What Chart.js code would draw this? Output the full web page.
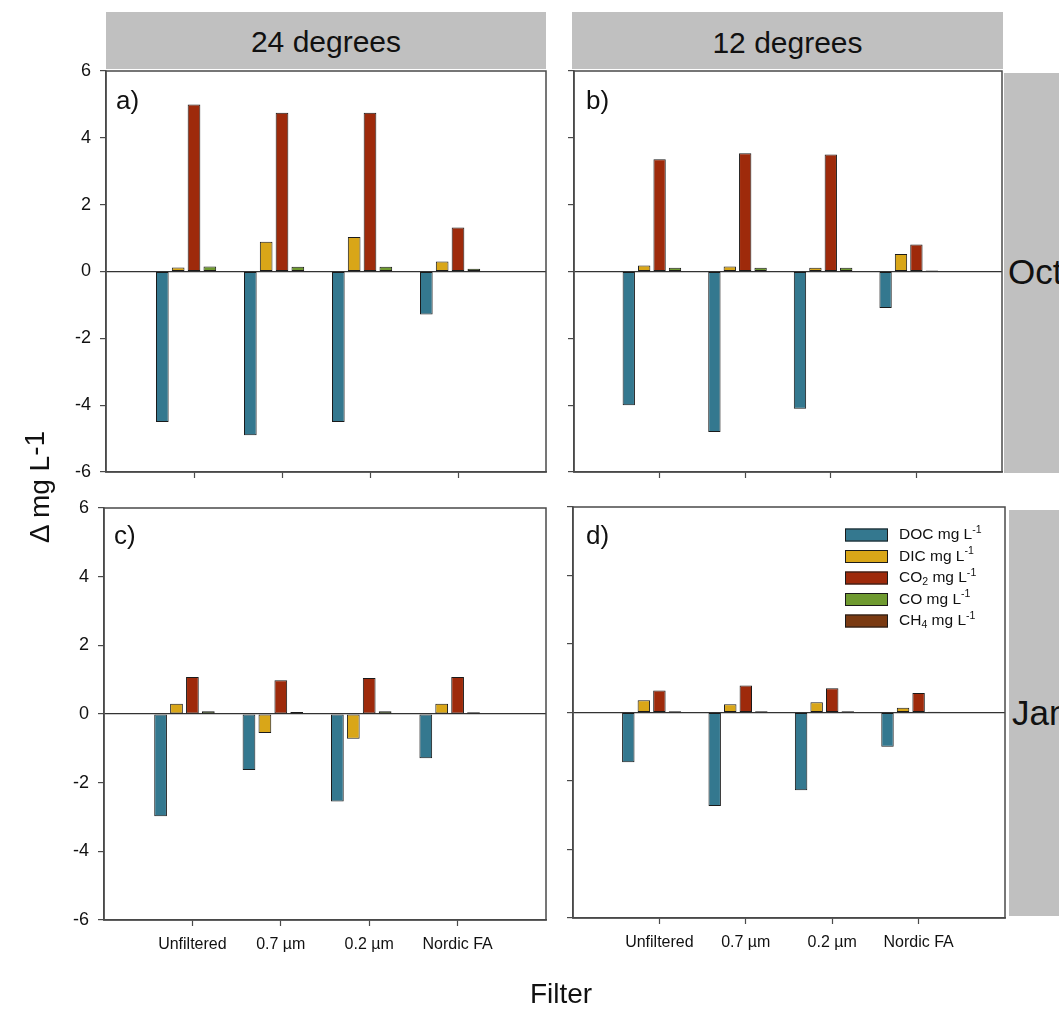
<!DOCTYPE html>
<html><head><meta charset="utf-8">
<script src="https://cdn.jsdelivr.net/npm/chart.js@4.4.1/dist/chart.umd.min.js"></script>
<style>
html,body{margin:0;padding:0;background:#fff;width:1059px;height:1009px;overflow:hidden;font-family:"Liberation Sans",Arial,sans-serif;}
.layer{position:absolute;left:0;top:0;}
.box{position:absolute;background:#c0c0c0;overflow:hidden;}
.txt{position:absolute;color:#111;white-space:nowrap;line-height:1;}
</style></head><body>
<div class="box" style="left:106px;top:12px;width:440px;height:57px;"></div>
<div class="box" style="left:572px;top:12px;width:431px;height:57px;"></div>
<div class="box" style="left:1004px;top:73px;width:60px;height:400px;"></div>
<div class="box" style="left:1009px;top:510px;width:55px;height:406px;"></div>
<div class="txt" style="left:106px;top:27px;width:440px;text-align:center;font-size:30px;">24 degrees</div>
<div class="txt" style="left:572px;top:28px;width:431px;text-align:center;font-size:30px;">12 degrees</div>
<div class="txt" style="left:1008px;top:254px;font-size:35px;">Oct</div>
<div class="txt" style="left:1012px;top:695px;font-size:35px;">Jan</div>
<canvas id="pa" class="layer" width="1059" height="1009"></canvas>
<canvas id="pb" class="layer" width="1059" height="1009"></canvas>
<canvas id="pc" class="layer" width="1059" height="1009"></canvas>
<canvas id="pd" class="layer" width="1059" height="1009"></canvas>
<div class="txt" style="left:116px;top:87px;font-size:26px;">a)</div>
<div class="txt" style="left:586px;top:87px;font-size:26px;">b)</div>
<div class="txt" style="left:114px;top:522px;font-size:26px;">c)</div>
<div class="txt" style="left:586px;top:522px;font-size:26px;">d)</div>
<div class="txt" style="left:40px;top:487px;font-size:28px;transform:translate(-50%,-50%) rotate(-90deg);">&Delta; mg L<span style="position:relative;top:-5px;">-1</span></div>
<div class="txt" style="left:561px;top:994px;font-size:28px;transform:translate(-50%,-50%);">Filter</div>
<script>
// ---- data ----
const filters = ['Unfiltered', '0.7 µm', '0.2 µm', 'Nordic FA'];
const seriesNames = ['DOC mg L⁻¹', 'DIC mg L⁻¹', 'CO₂ mg L⁻¹', 'CO mg L⁻¹', 'CH₄ mg L⁻¹'];
const seriesColors = ['#34788f', '#d9a618', '#9e2a0b', '#6f9a30', '#7a3a12'];
const yTicks = [-6, -4, -2, 0, 2, 4, 6];

// a) October, 24 degrees
const octWarmDOC = [-4.5, -4.9, -4.5, -1.29];
const octWarmDIC = [0.12, 0.89, 1.03, 0.30];
const octWarmCO2 = [5.0, 4.75, 4.75, 1.32];
const octWarmCO  = [0.15, 0.14, 0.14, 0.08];
const octWarmCH4 = [0, 0, 0, 0];
// b) October, 12 degrees
const octColdDOC = [-4.0, -4.8, -4.11, -1.09];
const octColdDIC = [0.18, 0.15, 0.11, 0.52];
const octColdCO2 = [3.36, 3.54, 3.5, 0.81];
const octColdCO  = [0.11, 0.11, 0.11, 0.03];
const octColdCH4 = [0, 0, 0, 0];
// c) January, 24 degrees
const janWarmDOC = [-2.98, -1.63, -2.55, -1.29];
const janWarmDIC = [0.30, -0.55, -0.72, 0.30];
const janWarmCO2 = [1.08, 0.98, 1.05, 1.08];
const janWarmCO  = [0.08, 0.06, 0.08, 0.05];
const janWarmCH4 = [0, 0, 0, 0];
// d) January, 12 degrees
const janColdDOC = [-1.45, -2.73, -2.27, -1.0];
const janColdDIC = [0.36, 0.24, 0.30, 0.14];
const janColdCO2 = [0.64, 0.79, 0.71, 0.57];
const janColdCO  = [0.04, 0.04, 0.04, 0.02];
const janColdCH4 = [0, 0, 0, 0];

const W = 1059, H = 1009;
const FONT = '"Liberation Sans", Arial, sans-serif';
Chart.defaults.font.family = FONT;

const framePlugin = {
  id: 'frame',
  afterDraw(chart) {
    const { ctx, chartArea: a } = chart;
    ctx.save();
    ctx.strokeStyle = '#4a4a4a';
    ctx.lineWidth = 1.5;
    ctx.strokeRect(a.left, a.top, a.right - a.left, a.bottom - a.top);
    ctx.restore();
  }
};

function parseRich(s) {
  const map = { '⁻': ['-', 'sup'], '¹': ['1', 'sup'], '₂': ['2', 'sub'], '₄': ['4', 'sub'] };
  const segs = [];
  for (const ch of s) {
    const m = map[ch];
    const t = m ? m[1] : 'n';
    const c = m ? m[0] : ch;
    if (segs.length && segs[segs.length - 1].t === t) segs[segs.length - 1].s += c;
    else segs.push({ s: c, t });
  }
  return segs;
}

const legendPlugin = {
  id: 'innerLegend',
  afterDraw(chart) {
    const { ctx } = chart;
    const x0 = 845, y0 = 535, dy = 21.5, sw = 43, sh = 13, fs = 15.5;
    ctx.save();
    chart.data.datasets.forEach((ds, i) => {
      const y = y0 + i * dy;
      ctx.fillStyle = ds.backgroundColor;
      ctx.fillRect(x0, y - sh / 2, sw, sh);
      ctx.strokeStyle = '#1a1a1a';
      ctx.lineWidth = 1;
      ctx.strokeRect(x0 + 0.5, y - sh / 2 + 0.5, sw - 1, sh - 1);
      let x = x0 + sw + 11;
      ctx.fillStyle = '#111';
      ctx.textBaseline = 'middle';
      for (const seg of parseRich(ds.label)) {
        const size = seg.t === 'n' ? fs : fs * 0.68;
        const off = seg.t === 'sup' ? -5 : seg.t === 'sub' ? 4 : 0;
        ctx.font = size + 'px ' + FONT;
        ctx.fillText(seg.s, x, y + off);
        x += ctx.measureText(seg.s).width;
      }
    });
    ctx.restore();
  }
};

function makePanel(id, area, vals, showX, showY, withLegend) {
  const labels = ['', ...filters, ''];
  const pad = v => [null, ...v, null];
  const YW = 60, XH = 50;
  const datasets = seriesNames.map((n, i) => ({
    label: n,
    data: pad(vals[i]),
    backgroundColor: seriesColors[i],
    borderColor: '#1a1a1a',
    borderWidth: 1,
    borderSkipped: false,
    categoryPercentage: 0.9,
    barPercentage: 0.8
  }));
  const plugins = [framePlugin];
  if (withLegend) plugins.push(legendPlugin);
  new Chart(document.getElementById(id), {
    type: 'bar',
    data: { labels, datasets },
    options: {
      responsive: false,
      animation: false,
      devicePixelRatio: 1,
      layout: { padding: { left: area.l - YW, top: area.t, right: W - area.r, bottom: H - area.b - XH } },
      plugins: { legend: { display: false }, tooltip: { enabled: false } },
      scales: {
        x: {
          type: 'category',
          offset: false,
          grid: {
            display: true, offset: false, drawOnChartArea: false, drawTicks: true, tickLength: 6,
            color: 'rgba(0,0,0,0)',
            tickColor: c => (c.index === 0 || c.index === labels.length - 1) ? 'rgba(0,0,0,0)' : '#4a4a4a',
            tickWidth: 1.2
          },
          border: { display: true, color: '#4a4a4a', width: 1.5 },
          ticks: { display: showX, autoSkip: false, maxRotation: 0, minRotation: 0, font: { size: 16 }, color: '#111', padding: 9 },
          afterFit: s => { s.height = XH; }
        },
        y: {
          min: -6, max: 6,
          afterBuildTicks: s => { s.ticks = yTicks.map(v => ({ value: v })); },
          grid: {
            display: true, drawOnChartArea: true, drawTicks: true, tickLength: 6,
            color: c => (c.tick && c.tick.value === 0) ? '#333' : 'rgba(0,0,0,0)',
            lineWidth: 1.2,
            tickColor: '#4a4a4a', tickWidth: 1.2
          },
          border: { display: true, color: '#4a4a4a', width: 1.5 },
          ticks: { display: showY, font: { size: 18 }, color: '#111', padding: 9 },
          afterFit: s => { s.width = YW; }
        }
      }
    },
    plugins
  });
}

makePanel('pa', { l: 106, t: 71, r: 546, b: 472 },
  [octWarmDOC, octWarmDIC, octWarmCO2, octWarmCO, octWarmCH4], false, true, false);
makePanel('pb', { l: 574, t: 71, r: 1002, b: 472 },
  [octColdDOC, octColdDIC, octColdCO2, octColdCO, octColdCH4], false, false, false);
makePanel('pc', { l: 104, t: 508, r: 546, b: 920 },
  [janWarmDOC, janWarmDIC, janWarmCO2, janWarmCO, janWarmCH4], true, true, false);
makePanel('pd', { l: 573, t: 507, r: 1005, b: 918 },
  [janColdDOC, janColdDIC, janColdCO2, janColdCO, janColdCH4], true, false, true);
</script>
</body></html>
